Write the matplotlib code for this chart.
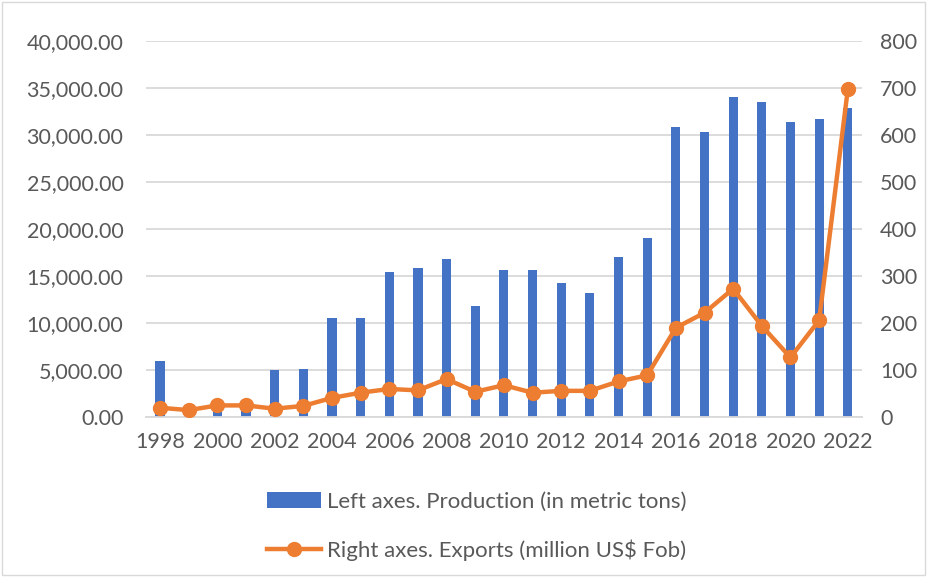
import numpy as np
from matplotlib import pyplot as plt
from matplotlib.ticker import FuncFormatter, MultipleLocator

years = list(range(1998, 2023))
production = [6000, 500, 1200, 1200, 5000, 5100, 10500, 10500, 15400, 15900,
              16800, 11800, 15650, 15650, 14300, 13200, 17000, 19100, 30800, 30300,
              34000, 33500, 31400, 31700, 32900]
exports = [20, 15, 25, 25, 18, 24, 41, 52, 60, 57,
           81, 54, 68, 52, 56, 56, 76, 89, 190, 222,
           273, 194, 127, 206, 697]

bar_color = '#4472C4'
line_color = '#ED7D31'
text_color = '#595959'
grid_color = '#D9D9D9'

plt.rcParams['font.family'] = ['Lato', 'DejaVu Sans']
fs = 15.5

fig = plt.figure(figsize=(9.28, 5.77), dpi=100)
ax = fig.add_axes([0.157, 0.277, 0.772, 0.652])
x = np.arange(len(years))

bars = ax.bar(x, production, width=0.32, color=bar_color, zorder=2,
              label='Left axes. Production (in metric tons)')
ax.set_ylim(0, 40000)
ax.yaxis.set_major_locator(MultipleLocator(5000))
ax.yaxis.set_major_formatter(FuncFormatter(lambda v, p: f'{v:,.2f}'))
ax.set_xlim(-0.5, len(years) - 0.5)
ax.set_xticks(x[::2])
ax.set_xticklabels([str(y) for y in years[::2]])
ax.grid(axis='y', color=grid_color, linewidth=1.3, zorder=0)
ax.set_axisbelow(True)
for s in ['top', 'left', 'right']:
    ax.spines[s].set_visible(False)
ax.spines['bottom'].set_color(grid_color)
ax.spines['bottom'].set_linewidth(1.3)
ax.tick_params(axis='y', length=0, labelsize=fs, colors=text_color, pad=16)
ax.tick_params(axis='x', length=0, labelsize=fs, colors=text_color, pad=11)

ax2 = ax.twinx()
line, = ax2.plot(x, exports, color=line_color, linewidth=3.2, marker='o',
                 markersize=10, zorder=3,
                 label='Right axes. Exports (million US$ Fob)')
ax2.set_ylim(0, 800)
ax2.yaxis.set_major_locator(MultipleLocator(100))
for s in ['top', 'left', 'right', 'bottom']:
    ax2.spines[s].set_visible(False)
ax2.tick_params(length=0, labelsize=fs, colors=text_color, pad=13)

fig.legend([bars, line], [bars.get_label(), line.get_label()],
           loc='center', bbox_to_anchor=(0.514, 0.088), ncol=1, frameon=False,
           fontsize=16, labelcolor=text_color, handlelength=2.4,
           handletextpad=0.3, labelspacing=1.25)

fig.patches.append(plt.Rectangle((0.002, 0.003), 0.995, 0.994, transform=fig.transFigure,
                                 fill=False, edgecolor=grid_color, linewidth=1))

plt.savefig('out.png', dpi=100)
